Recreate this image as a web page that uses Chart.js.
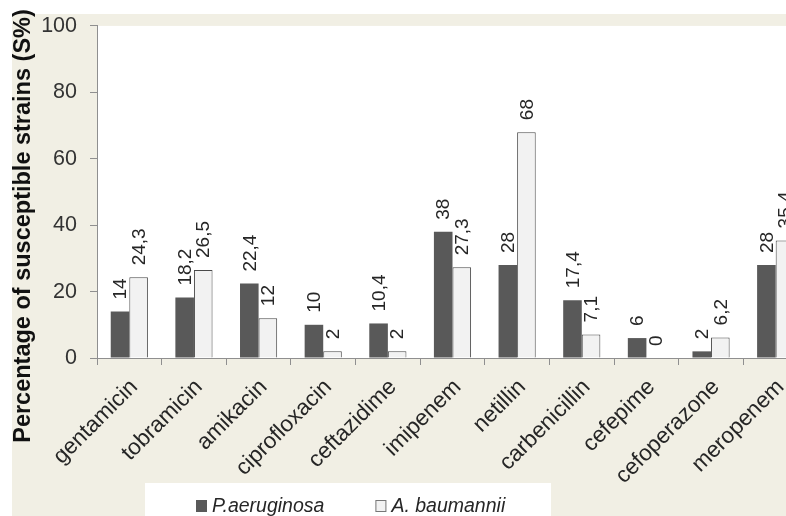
<!DOCTYPE html>
<html>
<head>
<meta charset="utf-8">
<script src="https://cdn.jsdelivr.net/npm/chart.js@4/dist/chart.umd.min.js"></script>
<style>
  html, body { margin: 0; padding: 0; background: #fff; overflow: hidden; }
  #wrap { position: relative; width: 808px; height: 516px; }
</style>
</head>
<body>
<div id="wrap"><canvas id="chart"></canvas></div>
<script>
// susceptibility chart - P. aeruginosa vs A. baumannii

const categories = ['gentamicin', 'tobramicin', 'amikacin', 'ciprofloxacin', 'ceftazidime',
  'imipenem', 'netillin', 'carbenicillin', 'cefepime', 'cefoperazone', 'meropenem'];
const paeruginosa = [14, 18.2, 22.4, 10, 10.4, 38, 28, 17.4, 6, 2, 28];
const abaumannii = [24.3, 26.5, 12, 2, 2, 27.3, 68, 7.1, 0, 6.2, 35.4];
const yTicks = [0, 20, 40, 60, 80, 100];
const yTitle = 'Percentage of susceptible strains (S%)';

const FONT = "'Liberation Sans', Arial, sans-serif";
const BEIGE = '#f1efe4';
const AXIS = '#8f8f8f';
const TEXT = '#262626';

// beige frame, white plot area and legend box
const backdrop = {
  id: 'backdrop',
  beforeDraw(chart) {
    const { ctx, width, height, chartArea: a } = chart;
    ctx.save();
    ctx.fillStyle = '#fff';
    ctx.fillRect(0, 0, width, height);
    ctx.fillStyle = BEIGE;
    ctx.fillRect(12, 14, width - 12, height - 14);
    ctx.fillStyle = '#fff';
    ctx.fillRect(a.left, a.top, a.right - a.left, a.bottom - a.top);
    ctx.fillRect(145, 483, 406, height - 483);
    ctx.restore();
  }
};

// vertical value labels above each bar
const valueLabels = {
  id: 'valueLabels',
  afterDatasetsDraw(chart) {
    const ctx = chart.ctx;
    ctx.save();
    ctx.font = '19px ' + FONT;
    ctx.fillStyle = TEXT;
    ctx.textAlign = 'left';
    ctx.textBaseline = 'middle';
    chart.data.datasets.forEach((ds, i) => {
      chart.getDatasetMeta(i).data.forEach((bar, j) => {
        const txt = String(ds.data[j]).replace('.', ',');
        ctx.save();
        ctx.translate(bar.x, bar.y - 12);
        ctx.rotate(-Math.PI / 2);
        ctx.fillText(txt, 0, 1);
        ctx.restore();
      });
    });
    ctx.restore();
  }
};

// y title is longer than the axis, so draw it by hand
const axisTitle = {
  id: 'axisTitle',
  afterDraw(chart) {
    const ctx = chart.ctx;
    ctx.save();
    ctx.translate(30, 226);
    ctx.rotate(-Math.PI / 2);
    ctx.font = 'bold 23.5px ' + FONT;
    ctx.fillStyle = '#111';
    ctx.textAlign = 'center';
    ctx.textBaseline = 'alphabetic';
    ctx.fillText(yTitle, 0, 0);
    ctx.restore();
  }
};

// legend in its white box below the axis labels
const boxLegend = {
  id: 'boxLegend',
  afterDraw(chart) {
    const ctx = chart.ctx;
    ctx.save();
    ctx.font = 'italic 19.5px ' + FONT;
    ctx.textBaseline = 'alphabetic';
    let x = 196;
    chart.data.datasets.forEach(ds => {
      ctx.fillStyle = ds.backgroundColor;
      ctx.fillRect(x, 500, 11, 12);
      if (ds.borderWidth) {
        ctx.strokeStyle = '#777';
        ctx.lineWidth = 1;
        ctx.strokeRect(x + 0.5, 500.5, 10, 11);
      }
      ctx.fillStyle = TEXT;
      ctx.fillText(ds.label, x + 16, 512);
      x += 16 + ctx.measureText(ds.label).width + 51;
    });
    ctx.restore();
  }
};

new Chart(document.getElementById('chart'), {
  type: 'bar',
  data: {
    labels: categories,
    datasets: [
      {
        label: 'P.aeruginosa',
        data: paeruginosa,
        backgroundColor: '#595959',
        borderWidth: 0
      },
      {
        label: 'A. baumannii',
        data: abaumannii,
        backgroundColor: '#f2f2f2',
        borderColor: '#4a4a4a',
        borderWidth: 1
      }
    ]
  },
  options: {
    responsive: true,
    maintainAspectRatio: false,
    animation: false,
    datasets: { bar: { categoryPercentage: 0.575, barPercentage: 1 } },
    layout: { padding: { top: 23, right: 0, bottom: 0, left: 0 } },
    plugins: {
      legend: { display: false },
      tooltip: { enabled: false }
    },
    scales: {
      x: {
        afterFit: s => { s.height = 158; },
        grid: { drawOnChartArea: false, offset: true, tickLength: 7, color: AXIS },
        border: { color: AXIS },
        ticks: {
          minRotation: 45,
          maxRotation: 45,
          autoSkip: false,
          padding: 9,
          labelOffset: 5,
          color: TEXT,
          font: { family: FONT, size: 22.5 }
        }
      },
      y: {
        min: 0,
        max: 100,
        afterFit: s => { s.width = 97; },
        afterBuildTicks: s => { s.ticks = yTicks.map(v => ({ value: v })); },
        grid: { drawOnChartArea: false, tickLength: 7, color: AXIS },
        border: { color: AXIS },
        ticks: {
          padding: 13,
          color: '#333',
          font: { family: FONT, size: 21.5 }
        }
      }
    }
  },
  plugins: [backdrop, valueLabels, axisTitle, boxLegend]
});
</script>
</body>
</html>
